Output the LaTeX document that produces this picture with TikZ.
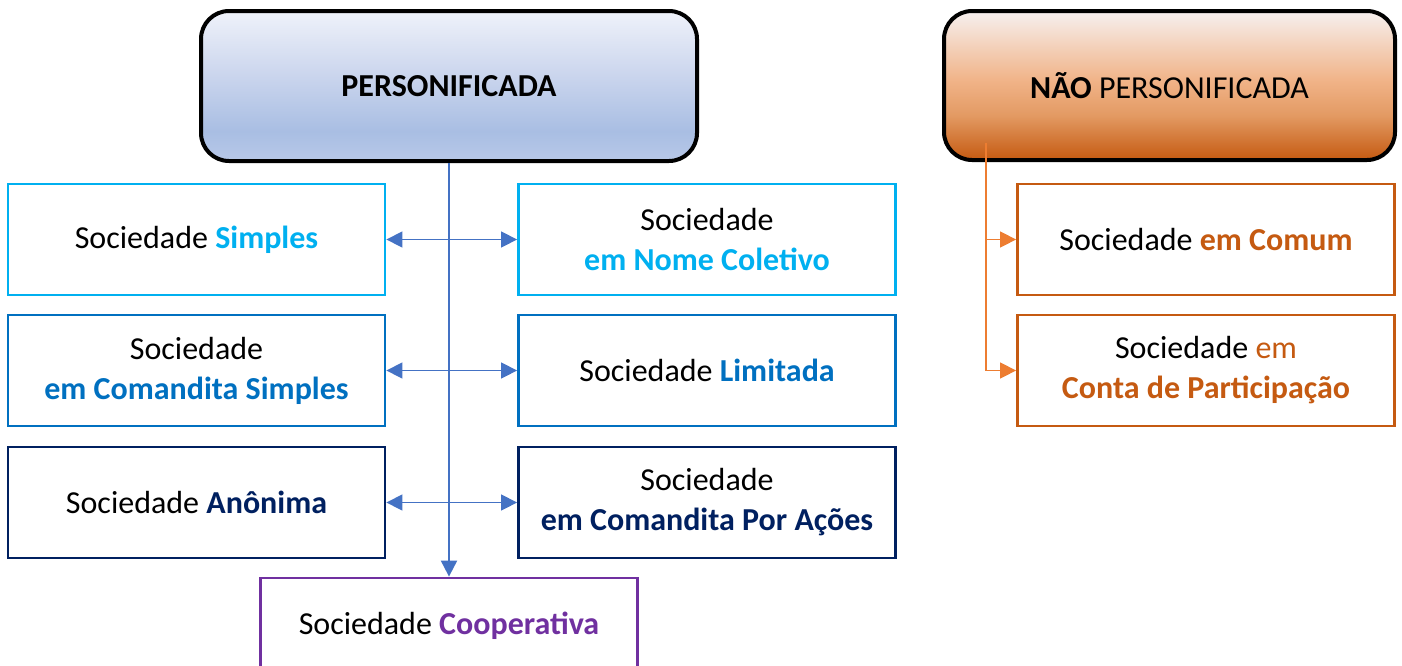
\documentclass[tikz,border=0pt]{standalone}
\usepackage{fontspec}
\setmainfont{Carlito}
\usepackage{xcolor}
\usepackage{tikz}
\usetikzlibrary{arrows.meta, positioning}

\definecolor{cyanS}{HTML}{00B0F0}
\definecolor{blueL}{HTML}{0070C0}
\definecolor{navyA}{HTML}{002060}
\definecolor{purpC}{HTML}{7030A0}
\definecolor{orgD}{HTML}{C55A11}
\definecolor{orgL}{HTML}{ED7D31}
\definecolor{linkB}{HTML}{4472C4}

\definecolor{persTop}{HTML}{EFF2FA}
\definecolor{persMid}{HTML}{CDD7EE}
\definecolor{persLow}{HTML}{A9BEE3}
\definecolor{persBot}{HTML}{B8C8E8}
\definecolor{naoTop}{HTML}{F6F0EF}
\definecolor{naoMid}{HTML}{F1B489}
\definecolor{naoLow}{HTML}{E39A63}
\definecolor{naoBot}{HTML}{C55A11}

\pgfdeclareverticalshading{persshade}{100bp}{color(0bp)=(persBot); color(25bp)=(persBot);
  color(35bp)=(persLow); color(55bp)=(persMid); color(75bp)=(persTop); color(100bp)=(persTop)}
\pgfdeclareverticalshading{naoshade}{100bp}{color(0bp)=(naoBot); color(25bp)=(naoBot);
  color(40bp)=(naoLow); color(52bp)=(naoMid); color(75bp)=(naoTop); color(100bp)=(naoTop)}

\begin{document}
\begin{tikzpicture}[x=0.5pt, y=-0.5pt, node distance=255.25pt,
                    font=\fontsize{16}{20}\selectfont]
\tikzstyle{title}=[shape=rectangle, rounded corners=14pt, draw=black, line width=2pt,
                    inner sep=0pt, font=\fontsize{16}{19}\selectfont]
\tikzstyle{box}=[shape=rectangle, line width=1.4pt, fill=white, align=center,
                    inner sep=0pt, minimum width=188.5pt, minimum height=55.5pt]
\tikzstyle{link}=[draw=linkB, line width=0.7pt]
\tikzstyle{tip}=[-{Triangle[length=8pt, width=8pt]}]
\tikzstyle{tips}=[{Triangle[length=8pt, width=8pt]}-{Triangle[length=8pt, width=8pt]}]
  \useasboundingbox (0,0) rectangle (1402,665);
  \node[title, shading=persshade, minimum width=248pt, minimum height=75pt]
       (P) at (449,86) {\textbf{PERSONIFICADA}};
  \node[title, shading=naoshade, minimum width=225.5pt, minimum height=74.5pt]
       (N) at (1169.5,85.5) {\textbf{NÃO} PERSONIFICADA};
  %
  \node[box, draw=cyanS] (SS) at (196.5,239.5) {Sociedade \textcolor{cyanS}{\textbf{Simples}}};
  \node[box, draw=cyanS] (NC) [right of=SS]
       {Sociedade\\\textcolor{cyanS}{\textbf{em Nome Coletivo}}};
  %
  \node[box, draw=blueL] (CS) [below of=SS, node distance=65.5pt]
       {Sociedade\\\textcolor{blueL}{\textbf{em Comandita Simples}}};
  \node[box, draw=blueL] (L) [right of=CS] {Sociedade \textcolor{blueL}{\textbf{Limitada}}};
  %
  \node[box, draw=navyA] (SA) [below of=CS, node distance=66pt]
       {Sociedade \textcolor{navyA}{\textbf{Anônima}}};
  \node[box, draw=navyA] (CPA) [right of=SA]
       {Sociedade\\\textcolor{navyA}{\textbf{em Comandita Por Ações}}};
  %
  \node[box, draw=purpC, minimum height=48pt] (Coop) at (449,626)
       {Sociedade \textcolor{purpC}{\textbf{Cooperativa}}};
  %
  \node[box, draw=orgD] (EC) at (1206,239.5) {Sociedade \textcolor{orgD}{\textbf{em Comum}}};
  \node[box, draw=orgD] (CP) [below of=EC, node distance=65.5pt]
       {Sociedade \textcolor{orgD}{em}\\\textcolor{orgD}{\textbf{Conta de Participação}}};
  %
  \draw[tip, link, line width=1pt] (P) -- (Coop);
  \draw[tips, link] (SS) -- (NC);
  \draw[tips, link] (CS) -- (L);
  \draw[tips, link] (SA) -- (CPA);
  %
  \coordinate (o) at (986,143);
  \draw[tip, draw=orgL, line width=0.7pt] (o) |- (EC);
  \draw[tip, draw=orgL, line width=0.7pt] (o) |- (CP);
\end{tikzpicture}
\end{document}
